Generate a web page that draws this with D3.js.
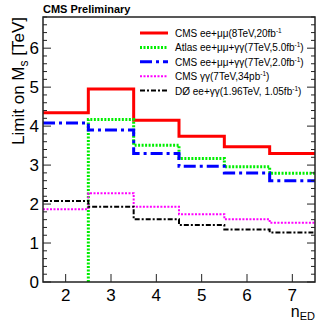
<!DOCTYPE html>
<html lang="en">
<head>
<meta charset="UTF-8">
<title>Limit on Ms</title>
<script src="https://d3js.org/d3.v7.min.js"></script>
<style>
  body { margin: 0; background: #fff; }
  text { font-family: "Liberation Sans", Arial, sans-serif; }
</style>
</head>
<body>
<div id="content"></div>
<script>
// number of extra dimensions (bin centres)
const nED = [2, 3, 4, 5, 6, 7];

const cms8 = [4.34, 4.95, 4.15, 3.74, 3.47, 3.30];
const atlas7 = [null, 4.17, 3.51, 3.17, 2.96, 2.79];
const cms7 = [4.08, 3.90, 3.30, 2.97, 2.80, 2.60];
const cmsGG = [1.87, 2.28, 1.93, 1.74, 1.61, 1.52];
const d0 = [2.08, 1.93, 1.61, 1.46, 1.35, 1.27];

const yTicks = [0, 1, 2, 3, 4, 5, 6];
const xTicks = [2, 3, 4, 5, 6, 7];

const series = [
  { name: "CMS ee+\u03bc\u03bc(8TeV,20fb", sup: "-1", tail: "", values: cms8, color: "#ff0000", width: 3, dash: null },
  { name: "Atlas ee+\u03bc\u03bc+\u03b3\u03b3(7TeV,5.0fb", sup: "-1", tail: ")", values: atlas7, color: "#00ee00", width: 3, dash: "2,1.5" },
  { name: "CMS ee+\u03bc\u03bc+\u03b3\u03b3(7TeV,2.0fb", sup: "-1", tail: ")", values: cms7, color: "#0000ff", width: 3, dash: "12,4,3,4" },
  { name: "CMS \u03b3\u03b3(7TeV,34pb", sup: "-1", tail: ")", values: cmsGG, color: "#ff00ff", width: 2, dash: "2,1.5" },
  { name: "D\u00d8 ee+\u03b3\u03b3(1.96TeV, 1.05fb", sup: "-1", tail: ")", values: d0, color: "#000000", width: 2, dash: "5,2,2,2" }
];

const margin = { top: 17, right: 17, bottom: 43, left: 43 },
  width = 332 - margin.left - margin.right,
  height = 325 - margin.top - margin.bottom;

const svg = d3.select("#content").append("svg")
  .attr("width", 332).attr("height", 325);

const g = svg.append("g")
  .attr("transform", "translate(" + margin.left + "," + margin.top + ")");

const x = d3.scaleLinear().domain([1.5, 7.5]).range([0, width]);
const y = d3.scaleLinear().domain([0, 6.8]).range([height, 0]);

// step lines
series.forEach(function (s) {
  const pts = [];
  s.values.forEach(function (v, i) {
    if (v === null) return;
    if (i > 0 && s.values[i - 1] === null) pts.push([nED[i] - 0.5, 0]);
    pts.push([nED[i] - 0.5, v]);
    pts.push([nED[i] + 0.5, v]);
  });
  g.append("path")
    .datum(pts)
    .attr("d", d3.line().x(d => x(d[0])).y(d => y(d[1])))
    .attr("fill", "none")
    .attr("stroke", s.color)
    .attr("stroke-width", s.width)
    .attr("stroke-dasharray", s.dash);
});

// frame
g.append("rect")
  .attr("width", width).attr("height", height)
  .attr("fill", "none").attr("stroke", "#222").attr("stroke-width", 1.5);

// y ticks, both sides
const yMinor = d3.range(0, 6.81, 0.2);
yMinor.forEach(function (v) {
  const major = Math.abs(v - Math.round(v)) < 1e-6;
  const len = major ? 8 : 4;
  g.append("line").attr("x1", 0).attr("x2", len).attr("y1", y(v)).attr("y2", y(v))
    .attr("stroke", "#222").attr("stroke-width", 1);
  g.append("line").attr("x1", width).attr("x2", width - len).attr("y1", y(v)).attr("y2", y(v))
    .attr("stroke", "#222").attr("stroke-width", 1);
});
g.selectAll(".ylab").data(yTicks).enter().append("text")
  .attr("x", -4).attr("y", d => y(d) + 6)
  .attr("text-anchor", "end").attr("font-size", 17).text(d => d);

// x ticks
xTicks.forEach(function (v) {
  g.append("line").attr("x1", x(v)).attr("x2", x(v)).attr("y1", height).attr("y2", height - 8)
    .attr("stroke", "#222").attr("stroke-width", 1);
});
g.selectAll(".xlab").data(xTicks).enter().append("text")
  .attr("x", d => x(d)).attr("y", height + 19)
  .attr("text-anchor", "middle").attr("font-size", 17).text(d => d);

// axis titles
const yt = svg.append("text")
  .attr("transform", "translate(24," + margin.top + ") rotate(-90)")
  .attr("text-anchor", "end").attr("font-size", 17);
yt.append("tspan").text("Limit on M");
yt.append("tspan").attr("font-size", 12).attr("dy", 4).text("s");
yt.append("tspan").attr("dy", -4).text(" [TeV]");

const xt = svg.append("text")
  .attr("x", 315).attr("y", 317).attr("text-anchor", "end").attr("font-size", 16);
xt.append("tspan").text("n");
xt.append("tspan").attr("font-size", 11).attr("dy", 3).text("ED");

svg.append("text").attr("x", 43).attr("y", 13)
  .attr("font-size", 11).attr("font-weight", "bold").text("CMS Preliminary");

// legend
const leg = svg.append("g").attr("transform", "translate(140,33)");
series.forEach(function (s, i) {
  const ly = i * 14.4;
  leg.append("line").attr("x1", 0).attr("x2", 28).attr("y1", ly).attr("y2", ly)
    .attr("stroke", s.color).attr("stroke-width", s.width).attr("stroke-dasharray", s.dash);
  const t = leg.append("text").attr("x", 35).attr("y", ly + 4).attr("font-size", 10);
  t.append("tspan").text(s.name);
  t.append("tspan").attr("font-size", 6.5).attr("dy", -4).text(s.sup);
  t.append("tspan").attr("dy", 4).text(s.tail);
});
</script>
</body>
</html>
